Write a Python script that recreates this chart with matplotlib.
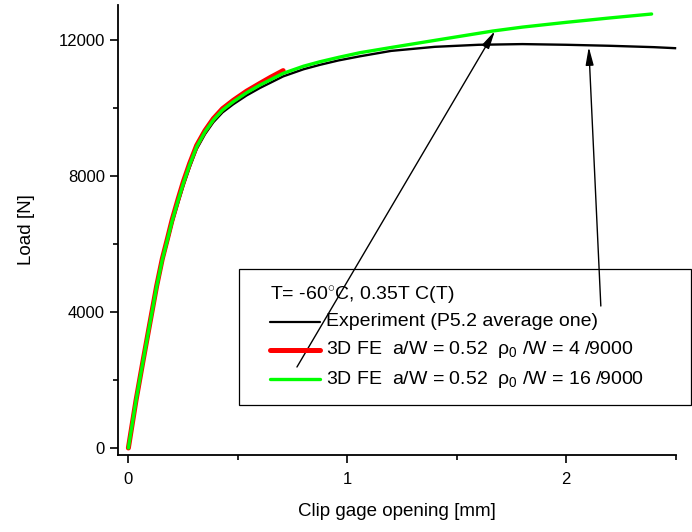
import matplotlib
matplotlib.use("Agg")
import matplotlib.pyplot as plt
from matplotlib.patches import Rectangle
from matplotlib.lines import Line2D
from matplotlib.ticker import MultipleLocator

plt.rcParams['font.family'] = ['Liberation Sans', 'DejaVu Sans']
plt.rcParams['mathtext.fontset'] = 'custom'
plt.rcParams['mathtext.rm'] = 'Liberation Sans'
plt.rcParams['mathtext.it'] = 'Liberation Sans'

# experiment (P5.2 average one)
exp_x = [0, 0.035, 0.068, 0.1, 0.129, 0.155, 0.178, 0.2, 0.228, 0.251, 0.28, 0.312,
         0.35, 0.388, 0.43, 0.479, 0.54, 0.601, 0.707, 0.8, 0.875, 0.96, 1.057,
         1.2, 1.4, 1.6, 1.8, 2.0, 2.2, 2.4, 2.497]
exp_y = [0, 1390, 2570, 3690, 4700, 5490, 6060, 6610, 7220, 7700, 8250, 8790,
         9230, 9580, 9870, 10110, 10370, 10590, 10930, 11140, 11270, 11400, 11520,
         11680, 11800, 11860, 11880, 11860, 11830, 11790, 11760]

# 3D FE rho0/W = 4/9000
fe4_x = [0, 0.035, 0.068, 0.1, 0.129, 0.155, 0.178, 0.2, 0.228, 0.251, 0.28, 0.312,
         0.35, 0.388, 0.43, 0.479, 0.54, 0.601, 0.65, 0.707]
fe4_y = [0, 1405, 2600, 3735, 4760, 5565, 6145, 6715, 7340, 7830, 8370, 8900,
         9335, 9685, 9980, 10225, 10495, 10725, 10905, 11100]

# 3D FE rho0/W = 16/9000
fe16_x = [0, 0.035, 0.068, 0.1, 0.129, 0.155, 0.178, 0.2, 0.228, 0.251, 0.28, 0.312,
          0.35, 0.388, 0.43, 0.479, 0.54, 0.601, 0.707, 0.8, 0.875, 0.96, 1.057,
          1.2, 1.4, 1.664, 1.8, 2.0, 2.2, 2.39]
fe16_y = [0, 1400, 2590, 3720, 4740, 5540, 6117, 6680, 7300, 7785, 8330, 8862,
          9300, 9647, 9940, 10185, 10450, 10676, 11020, 11230, 11361, 11490, 11626,
          11780, 11990, 12264, 12380, 12520, 12650, 12765]

title_txt = "T= -60$^{\\circ}$C, 0.35T C(T)"
labels = ["Experiment (P5.2 average one)",
          r"3D FE  a/W = 0.52  $\rho_0$ /W = 4 /9000",
          r"3D FE  a/W = 0.52  $\rho_0$ /W = 16 /9000"]

W, H = 692, 532
fig = plt.figure(figsize=(W / 100, H / 100), dpi=100)
ax = fig.add_axes([118.3 / W, 1 - 455 / H, (675.7 - 118.3) / W, (455 - 5) / H])

ax.plot(exp_x, exp_y, color='black', lw=1.7, clip_on=False, zorder=3)
ax.plot(fe4_x, fe4_y, color='#ff0000', lw=3.6, clip_on=False, zorder=4, solid_capstyle='round')
ax.plot(fe16_x, fe16_y, color='#00ff00', lw=2.4, clip_on=False, zorder=5, solid_capstyle='round')

ax.set_xlim(-0.046, 2.5)
ax.set_ylim(-206, 13030)
ax.xaxis.set_major_locator(MultipleLocator(1))
ax.xaxis.set_minor_locator(MultipleLocator(0.5))
ax.yaxis.set_major_locator(MultipleLocator(4000))
ax.yaxis.set_minor_locator(MultipleLocator(2000))
for s in ['top', 'right']:
    ax.spines[s].set_visible(False)
for s in ['left', 'bottom']:
    ax.spines[s].set_linewidth(1.3)
ax.tick_params(which='major', direction='out', length=6, width=1.2, labelsize=12)
ax.tick_params(which='minor', direction='out', length=3.8, width=1.2)
ax.tick_params(axis='x', pad=6)

ax.set_xlabel("Clip gage opening [mm]", fontsize=13.5, labelpad=12)
ax.set_ylabel("Load [N]", fontsize=13.5, labelpad=17)

# arrows
arrow_tail = [(0.770, 2382), (2.158, 4176)]
arrow_head = [(1.674, 12264), (2.103, 11794)]
for (tx, ty), (hx, hy) in zip(arrow_tail, arrow_head):
    ax.annotate("", xy=(hx, hy), xytext=(tx, ty),
                arrowprops=dict(arrowstyle='-|>,head_length=0.9,head_width=0.2',
                                color='black', lw=1.0, shrinkA=0, shrinkB=0,
                                mutation_scale=12), zorder=6)

# legend box
fig.patches.append(Rectangle((239 / W, 1 - 405 / H), (691 - 239) / W, (405 - 269) / H,
                             transform=fig.transFigure, fill=False, edgecolor='black',
                             lw=0.9, zorder=2))
fig.text(270 / W, 1 - 296 / H, title_txt, fontsize=14, va='center', ha='left')
line_y = [322, 350, 379]
colors = ['black', '#ff0000', '#00ff00']
widths = [1.6, 3.6, 2.4]
for yy, c, w, lab in zip(line_y, colors, widths, labels):
    fig.lines.append(Line2D([270 / W, 320 / W], [1 - yy / H, 1 - yy / H],
                            transform=fig.transFigure, color=c, lw=w,
                            solid_capstyle='round'))
    fig.text(326 / W, 1 - yy / H, lab, fontsize=14, va='center', ha='left')

fig.savefig("out.png", dpi=100)
